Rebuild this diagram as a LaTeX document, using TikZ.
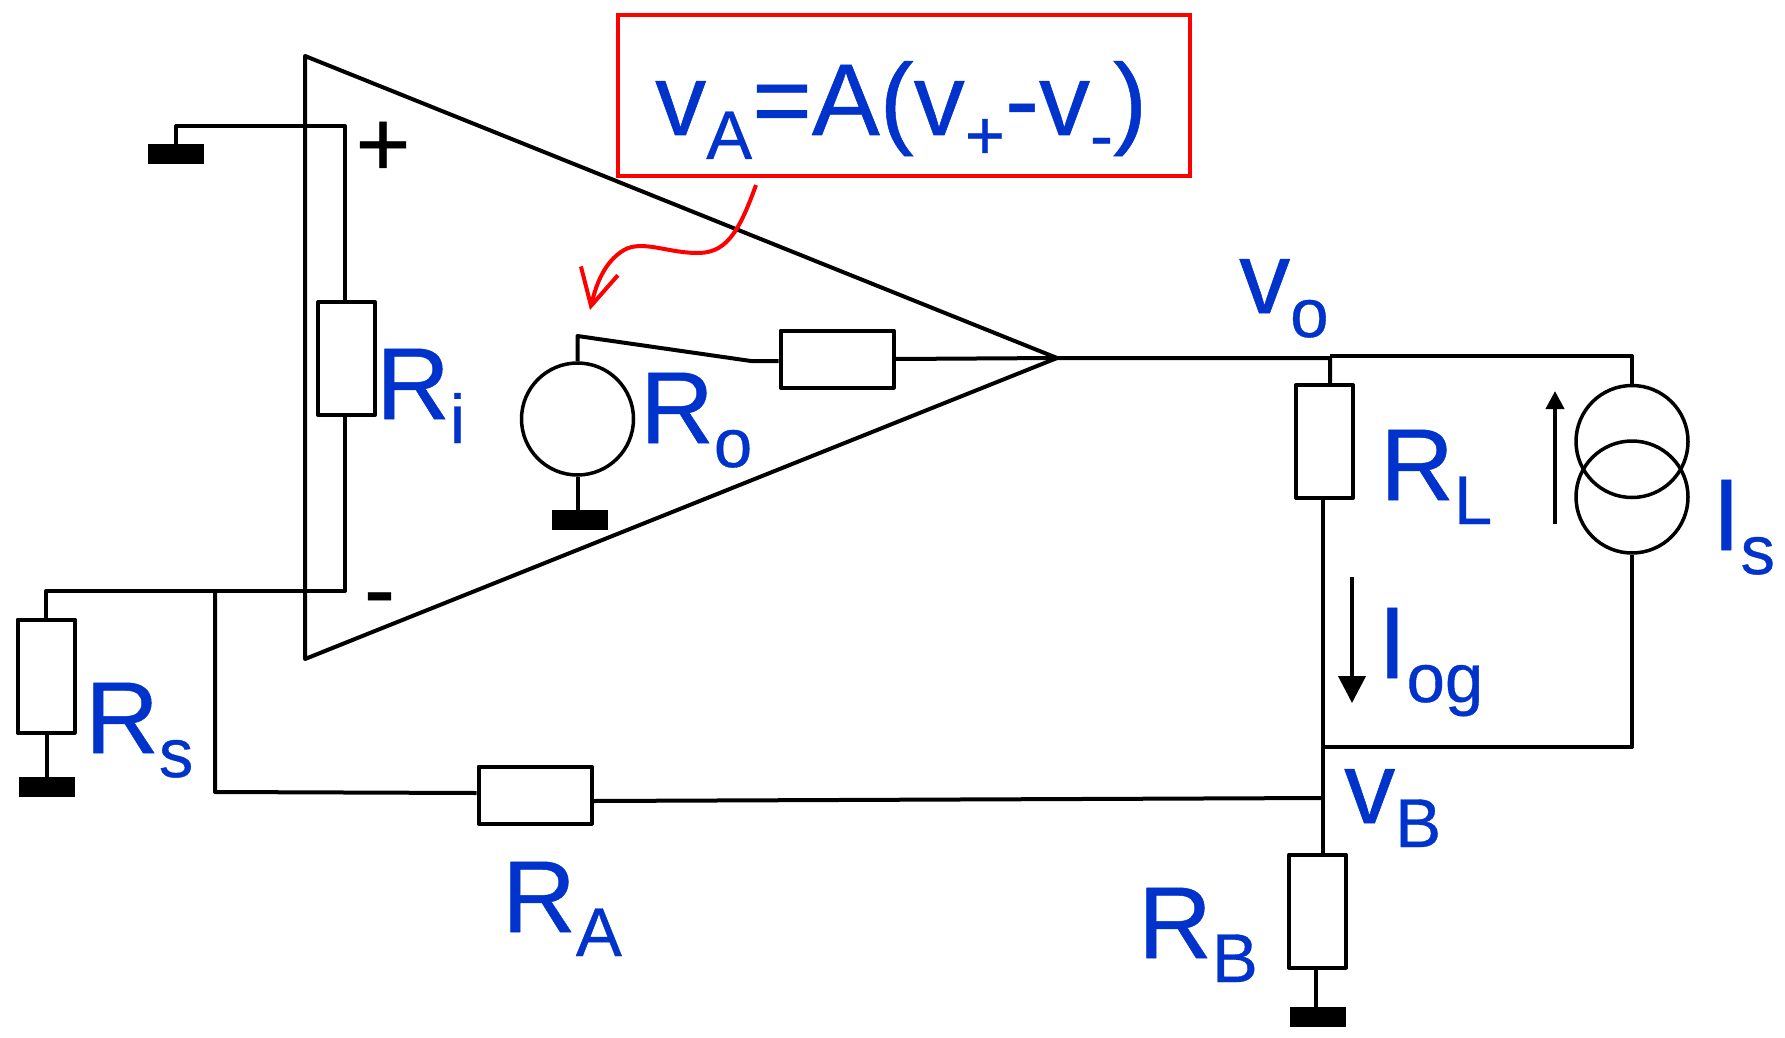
\documentclass[tikz,border=0pt]{standalone}
\usepackage{fontspec}
\setmainfont{Liberation Sans}
\newfontfamily\labfont[FakeBold=0.5]{Liberation Sans}
\usepackage{xcolor}
\usepackage{tikz}
\usetikzlibrary{arrows.meta}
\usetikzlibrary{positioning}
\usetikzlibrary{calc}
\definecolor{labblue}{HTML}{0033CC}
\newcommand{\sublab}[2]{#1\raisebox{-24pt}{\fontsize{69pt}{69pt}\selectfont #2}}
\tikzset{
  wire/.style = {draw=black, line width=4pt, line join=round},
  res_v/.style = {wire, rectangle, fill=white, minimum width=57pt,
    minimum height=113pt, inner sep=0pt},% vertical resistor
  res_h/.style = {wire, rectangle, fill=white, minimum width=113pt,
    minimum height=57pt, inner sep=0pt},% horizontal resistor
  gnd_b/.style = {rectangle, fill=black, minimum width=56pt,
    minimum height=20pt, inner sep=0pt},% ground block
  src_c/.style = {circle, draw=black, line width=3.5pt, minimum size=112pt,
    inner sep=0pt},% source circle
  lab_b/.style = {anchor=base west, inner sep=0pt, text=labblue,
    font=\labfont\fontsize{102pt}{102pt}\selectfont},
  sign_k/.style = {inner sep=0pt, text=black,
    font=\labfont\fontsize{94pt}{94pt}\selectfont}
}

\begin{document}
\begin{tikzpicture}[x=1pt,y=-1pt]
\useasboundingbox (0,0) rectangle (1785,1038);

% amplifier
\coordinate (ampT) at (305,56);
\coordinate (ampB) at (305,659);
\coordinate (ampO) at (1057,358);
\draw[wire] (ampT) -- (ampO) -- (ampB) -- cycle;

% resistors
\node [res_v] (Ri) at (346.5,358.5) {};
\node [res_h] (Ro) at (837,359) {};
\node [res_v] (Rs) at (46,676) {};
\node [res_h] (RA) at (535,795) {};
\node [res_v] (RL) at (1324.5,441.5) {};
\node [res_v] (RB) at (1317.5,911) {};

% sources
\node [src_c] (Va) at (577.5,419) {};
\node [src_c] (Is1) at (1632,441.5) {};
\node [src_c] (Is2) at (1632,497) {};

% grounds
\node [gnd_b] (gndP) at (176,154) {};
\node [gnd_b] (gndA) at (580,520) {};
\node [gnd_b] (gndS) at (47,787) {};
\node [gnd_b] (gndB) at (1318,1017) {};

% junctions
\coordinate (nP) at (176,126);
\coordinate (nPr) at (345,126);
\coordinate (nM) at (345,591);
\coordinate (nMl) at (46,591);
\coordinate (nF) at (215,591);
\coordinate (nFb) at (215,792);
\coordinate (nA) at (577.5,336);
\coordinate (nAr) at (751,361);
\coordinate (nO) at (1330,358);
\coordinate (nOr) at (1632,356);
\coordinate (nL) at (1323,498);
\coordinate (nV) at (1323,798);
\coordinate (nI) at (1323,747);
\coordinate (nIr) at (1632,747);

\draw[wire] (gndP.north) -- (nP) -- (nPr) -- (nPr |- Ri.north);
\draw[wire] (nM |- Ri.south) -- (nM) -- (nMl) -- (Rs.north);
\draw[wire] (nF) -- (nFb) -- (RA.west |- 0,793);
\draw[wire] (RA.east |- 0,801) -- (nV);
\draw[wire] (gndS.north) -- (gndS.north |- Rs.south);
\draw[wire] (Va.north) -- (nA) -- (nAr) -- (Ro.west |- nAr);
\draw[wire] (Va.south) -- (Va.south |- gndA.north);
\draw[wire] (Ro.east) -- (ampO) -- (nO) -- (nO |- RL.north);
\draw[wire] (nO |- 0,356) -- (nOr) -- (Is1.north);
\draw[wire] (nL) -- (nL |- RB.north);
\draw[wire] (nI) -- (nIr) -- (Is2.south);
\draw[wire] (gndB.north -| 1316,0) -- (1316,0 |- RB.south);

% current arrows
\coordinate (iLa) at (1352,577);
\coordinate (iLb) at (1352,703);
\coordinate (iSa) at (1555,524);
\coordinate (iSb) at (1555,391);
\draw[line width=4pt,-{Triangle[width=27pt,length=27pt]}] (iLa) -- (iLb);
\draw[line width=4pt,-{Triangle[width=18pt,length=18pt]}] (iSa) -- (iSb);

% gain formula
\node [draw=red, line width=4pt, minimum width=572pt, minimum height=161pt,
  inner sep=0pt] (gainbox) at (904,95.5) {};
\node [lab_b] (gain) at (655,135) {\sublab{v}{A}=A(v\sublab{}{+}-v\sublab{}{-})};
\coordinate (redA) at (756,185);
\coordinate (redB) at (590,310);
\draw[red, line width=4pt, -{Straight Barb[length=36pt,width=38pt]}] (redA)
  .. controls (738,235) and (725,254) .. (695,253)
  .. controls (665,252) and (642,240) .. (624,250)
  .. controls (604,262) and (596,285) .. (redB);

% labels
\node [lab_b] (lRi) at (376,419) {\sublab{R}{i}};
\node [lab_b] (lRo) at (640,443) {\sublab{R}{o}};
\node [lab_b] (lRs) at (85,753) {\sublab{R}{s}};
\node [lab_b] (lRA) at (502,932) {\sublab{R}{A}};
\node [lab_b] (lRB) at (1138,958) {\sublab{R}{B}};
\node [lab_b] (lRL) at (1380,500) {\sublab{R}{L}};
\node [lab_b] (lIs) at (1712,550) {\sublab{I}{s}};
\node [lab_b] (lIo) at (1378,678) {\sublab{I}{og}};
\node [lab_b] (lvo) at (1239,313) {\sublab{v}{o}};
\node [lab_b] (lvB) at (1344,823) {\sublab{v}{B}};

% inputs
\node [sign_k] (plus) at (383,149) {+};
\node [sign_k] (minus) at (379.5,607) {-};
\end{tikzpicture}
\end{document}
